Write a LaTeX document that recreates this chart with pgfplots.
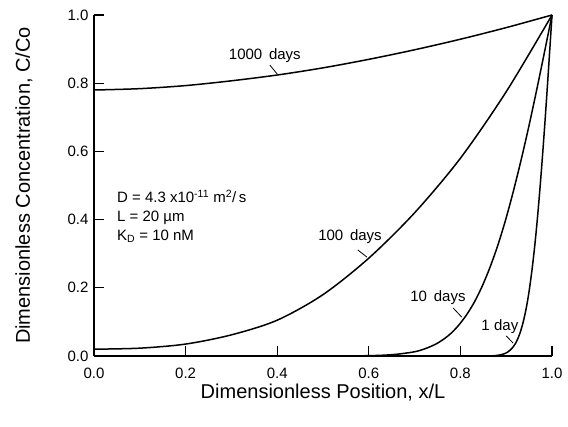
\documentclass[border=0pt]{standalone}
\usepackage{fontspec}
\setmainfont{Liberation Sans}
\usepackage{pgfplots}
\pgfplotsset{compat=1.18}
\begin{document}
\begin{tikzpicture}[x=1bp,y=1bp]
\useasboundingbox (0,0) rectangle (568,426);
\begin{axis}[
  at={(94bp,70bp)}, anchor=south west,
  scale only axis, width=458bp, height=341bp,
  xmin=0, xmax=1, ymin=0, ymax=1,
  axis x line=bottom, axis y line=left,
  axis line style={-, line width=1.4bp},
  tick align=inside, major tick length=10bp,
  tick style={line width=1.2bp, black},
  xtick={0,0.2,0.4,0.6,0.8,1.0},
  ytick={0,0.2,0.4,0.6,0.8,1.0},
  xticklabels={0.0,0.2,0.4,0.6,0.8,1.0},
  yticklabels={0.0,0.2,0.4,0.6,0.8,1.0},
  ticklabel style={font=\fontsize{15bp}{18bp}\selectfont},
  xticklabel style={yshift=-8bp},
  yticklabel style={xshift=-2bp},
  xlabel={Dimensionless Position, x/L},
  ylabel={Dimensionless Concentration, C/Co},
  label style={font=\fontsize{20bp}{24bp}\selectfont},
  xlabel style={at={(axis description cs:0.5,-0.107)}, anchor=center},
  ylabel style={at={(axis description cs:-0.153,0.5)}, anchor=center},
  clip=false,
]
% 1000 days
\addplot[black, line width=1.5bp, smooth] coordinates {
(0,0.78) (0.1,0.784) (0.2,0.793) (0.3,0.807) (0.4,0.824) (0.5,0.845)
(0.6,0.870) (0.7,0.898) (0.8,0.929) (0.9,0.963) (1.0,1.0)};
% 100 days
\addplot[black, line width=1.5bp, smooth] coordinates {
(0,0.02) (0.1,0.023) (0.2,0.035) (0.3,0.062) (0.4,0.105) (0.5,0.18)
(0.6,0.287) (0.7,0.42) (0.8,0.58) (0.9,0.775) (1.0,1.0)};
% 10 days
\addplot[black, line width=1.5bp, smooth] coordinates {
(0,0) (0.49,0) (0.575,0.0004) (0.626,0.002) (0.66,0.005) (0.694,0.011)
(0.711,0.016) (0.728,0.024) (0.745,0.034) (0.762,0.048) (0.779,0.066)
(0.796,0.090) (0.813,0.120) (0.830,0.157) (0.847,0.203) (0.864,0.258)
(0.881,0.322) (0.898,0.396) (0.915,0.480) (0.932,0.572) (0.949,0.671)
(0.966,0.777) (0.983,0.8875) (1.0,1.0)};
% 1 day
\addplot[black, line width=1.5bp, smooth] coordinates {
(0,0) (0.8,0) (0.865,0.0004) (0.8812,0.002) (0.892,0.005) (0.9028,0.011)
(0.9136,0.024) (0.919,0.034) (0.9244,0.048) (0.9298,0.066) (0.9352,0.090)
(0.9406,0.120) (0.946,0.157) (0.9514,0.203) (0.9568,0.258) (0.9622,0.322)
(0.9676,0.396) (0.973,0.480) (0.9784,0.572) (0.9838,0.671) (0.9892,0.777)
(0.9946,0.8875) (1.0,1.0)};
% leader lines
\addplot[black, line width=0.8bp] coordinates {(0.384,0.853) (0.400,0.827)};
\addplot[black, line width=0.8bp] coordinates {(0.576,0.311) (0.596,0.290)};
\addplot[black, line width=0.8bp] coordinates {(0.784,0.141) (0.803,0.114)};
\addplot[black, line width=0.8bp] coordinates {(0.900,0.059) (0.915,0.038)};
% labels
\begin{scope}[every node/.style={font=\fontsize{15bp}{18bp}\selectfont, inner sep=0pt}]
\node at (axis cs:0.373,0.880) {1000\hspace{0.45em}days};
\node at (axis cs:0.559,0.349) {100\hspace{0.45em}days};
\node at (axis cs:0.751,0.170) {10\hspace{0.45em}days};
\node at (axis cs:0.886,0.085) {1\hspace{0.3em}day};
\node[anchor=base west] at (axis cs:0.050,0.449) {D = 4.3 x10\textsuperscript{-11} m\textsuperscript{2}/\,s};
\node[anchor=base west] at (axis cs:0.050,0.393) {L = 20 µm};
\node[anchor=base west] at (axis cs:0.050,0.340) {K\textsubscript{D} = 10 nM};
\end{scope}
\end{axis}
\end{tikzpicture}
\end{document}
